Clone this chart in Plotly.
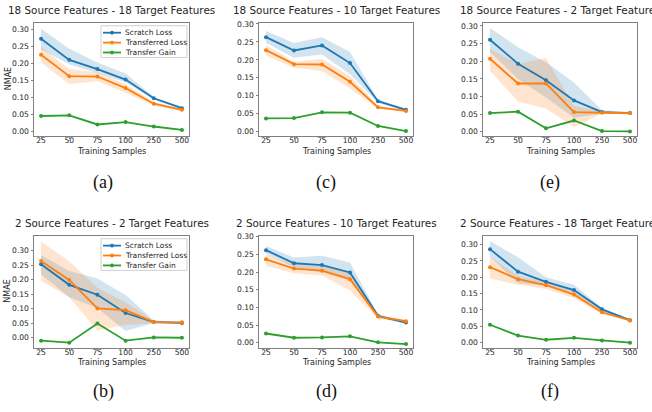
import plotly.graph_objects as go

W, H = 652, 412

samples = ["25", "50", "75", "100", "250", "500"]
ytick_vals = [0.00, 0.05, 0.10, 0.15, 0.20, 0.25, 0.30]
series_names = ["Scratch Loss", "Transferred Loss", "Transfer Gain"]
series_colors = ["#1f77b4", "#ff7f0e", "#2ca02c"]
band_colors = ["rgba(31,119,180,0.2)", "rgba(255,127,14,0.2)"]

# (a) 18 source - 18 target
a_scratch = [0.273, 0.211, 0.184, 0.153, 0.098, 0.069]
a_scratch_hi = [0.303, 0.244, 0.203, 0.171, 0.102, 0.072]
a_scratch_lo = [0.242, 0.198, 0.172, 0.145, 0.094, 0.066]
a_transfer = [0.226, 0.163, 0.162, 0.128, 0.082, 0.064]
a_transfer_hi = [0.249, 0.184, 0.174, 0.140, 0.087, 0.068]
a_transfer_lo = [0.203, 0.140, 0.148, 0.114, 0.077, 0.060]
a_gain = [0.046, 0.048, 0.021, 0.028, 0.015, 0.005]

# (c) 18 source - 10 target
c_scratch = [0.263, 0.226, 0.240, 0.191, 0.085, 0.061]
c_scratch_hi = [0.280, 0.247, 0.263, 0.222, 0.089, 0.064]
c_scratch_lo = [0.247, 0.206, 0.215, 0.160, 0.081, 0.058]
c_transfer = [0.227, 0.188, 0.187, 0.139, 0.068, 0.058]
c_transfer_hi = [0.241, 0.194, 0.203, 0.155, 0.072, 0.061]
c_transfer_lo = [0.212, 0.178, 0.169, 0.120, 0.065, 0.055]
c_gain = [0.037, 0.038, 0.054, 0.053, 0.016, 0.002]

# (e) 18 source - 2 target
e_scratch = [0.261, 0.193, 0.146, 0.089, 0.056, 0.053]
e_scratch_hi = [0.294, 0.240, 0.197, 0.140, 0.061, 0.056]
e_scratch_lo = [0.226, 0.150, 0.097, 0.040, 0.051, 0.050]
e_transfer = [0.207, 0.137, 0.137, 0.056, 0.054, 0.053]
e_transfer_hi = [0.235, 0.192, 0.209, 0.073, 0.058, 0.056]
e_transfer_lo = [0.173, 0.086, 0.066, 0.014, 0.051, 0.050]
e_gain = [0.053, 0.057, 0.010, 0.032, 0.002, 0.001]

# (b) 2 source - 2 target
b_scratch = [0.253, 0.182, 0.148, 0.085, 0.054, 0.051]
b_scratch_hi = [0.285, 0.230, 0.204, 0.147, 0.059, 0.055]
b_scratch_lo = [0.218, 0.139, 0.102, 0.023, 0.051, 0.048]
b_transfer = [0.264, 0.199, 0.101, 0.095, 0.054, 0.053]
b_transfer_hi = [0.331, 0.263, 0.172, 0.121, 0.059, 0.055]
b_transfer_lo = [0.196, 0.139, 0.025, 0.045, 0.049, 0.049]
b_gain = [-0.010, -0.017, 0.049, -0.010, 0.001, 0.000]

# (d) 2 source - 10 target
d_scratch = [0.262, 0.225, 0.220, 0.199, 0.076, 0.057]
d_scratch_hi = [0.274, 0.241, 0.246, 0.227, 0.080, 0.062]
d_scratch_lo = [0.252, 0.213, 0.199, 0.176, 0.071, 0.053]
d_transfer = [0.236, 0.210, 0.204, 0.180, 0.074, 0.061]
d_transfer_hi = [0.250, 0.221, 0.216, 0.201, 0.078, 0.064]
d_transfer_lo = [0.218, 0.197, 0.190, 0.148, 0.068, 0.058]
d_gain = [0.026, 0.014, 0.015, 0.018, 0.001, -0.004]

# (f) 2 source - 18 target
f_scratch = [0.286, 0.217, 0.186, 0.161, 0.102, 0.069]
f_scratch_hi = [0.311, 0.261, 0.200, 0.177, 0.106, 0.071]
f_scratch_lo = [0.263, 0.182, 0.174, 0.148, 0.098, 0.067]
f_transfer = [0.231, 0.194, 0.176, 0.147, 0.093, 0.068]
f_transfer_hi = [0.263, 0.204, 0.187, 0.157, 0.098, 0.070]
f_transfer_lo = [0.197, 0.177, 0.164, 0.136, 0.088, 0.066]
f_gain = [0.055, 0.022, 0.009, 0.015, 0.007, 0.000]

titles = {
    "a": "18 Source Features - 18 Target Features",
    "c": "18 Source Features - 10 Target Features",
    "e": "18 Source Features - 2 Target Features",
    "b": "2 Source Features - 2 Target Features",
    "d": "2 Source Features - 10 Target Features",
    "f": "2 Source Features - 18 Target Features",
}

panels = [
    # letter, col, row, data, y-range, show ylabel, show legend
    ("a", 0, 0, (a_scratch, a_scratch_lo, a_scratch_hi, a_transfer, a_transfer_lo, a_transfer_hi, a_gain), (-0.012, 0.320), True, True),
    ("c", 1, 0, (c_scratch, c_scratch_lo, c_scratch_hi, c_transfer, c_transfer_lo, c_transfer_hi, c_gain), (-0.011, 0.303), False, False),
    ("e", 2, 0, (e_scratch, e_scratch_lo, e_scratch_hi, e_transfer, e_transfer_lo, e_transfer_hi, e_gain), (-0.011, 0.309), False, False),
    ("b", 0, 1, (b_scratch, b_scratch_lo, b_scratch_hi, b_transfer, b_transfer_lo, b_transfer_hi, b_gain), (-0.034, 0.351), True, True),
    ("d", 1, 1, (d_scratch, d_scratch_lo, d_scratch_hi, d_transfer, d_transfer_lo, d_transfer_hi, d_gain), (-0.014, 0.303), False, False),
    ("f", 2, 1, (f_scratch, f_scratch_lo, f_scratch_hi, f_transfer, f_transfer_lo, f_transfer_hi, f_gain), (-0.015, 0.327), False, False),
]

# plot-area pixel boxes
col_px = [(34, 189), (259, 413), (483, 637)]
row_px = [(20, 134), (235, 348)]
label_cx = [103, 326, 550]
label_cy = [181, 392]


def px(x):
    return x / W


def py(y):
    return 1 - y / H


FONT = "DejaVu Sans"
TXT = "#262626"
AX = "#808080"

fig = go.Figure()
annotations = []
shapes = []
xs = list(range(len(samples)))

for i, (letter, c, r, data, yr, ylab, leg) in enumerate(panels):
    k = "" if i == 0 else str(i + 1)
    xa, ya = "x" + k, "y" + k
    scratch, s_lo, s_hi, transfer, t_lo, t_hi, gain = data
    # bands
    for hi, lo, bc in ((s_hi, s_lo, band_colors[0]), (t_hi, t_lo, band_colors[1])):
        fig.add_trace(go.Scatter(
            x=xs + xs[::-1], y=list(hi) + list(lo)[::-1], fill="toself",
            fillcolor=bc, line=dict(width=0), mode="lines", hoverinfo="skip",
            showlegend=False, xaxis=xa, yaxis=ya))
    for vals, name, col in zip((scratch, transfer, gain), series_names, series_colors):
        fig.add_trace(go.Scatter(
            x=xs, y=vals, mode="lines+markers", name=name,
            line=dict(color=col, width=1.8), marker=dict(color=col, size=4),
            showlegend=False, xaxis=xa, yaxis=ya))

    x0, x1 = col_px[c]
    y0, y1 = row_px[r]
    axcommon = dict(showline=True, mirror=True, linecolor=AX, linewidth=1,
                    ticks="outside", ticklen=2.5, tickcolor=AX, tickwidth=1,
                    showgrid=False, zeroline=False,
                    tickfont=dict(family=FONT, size=7.6, color=TXT))
    fig.layout["xaxis" + k] = dict(domain=[px(x0), px(x1)], anchor=ya,
                                   range=[-0.25, len(samples) - 0.75],
                                   tickvals=xs, ticktext=samples,
                                   ticklabelstandoff=-5, **axcommon)
    fig.layout["yaxis" + k] = dict(domain=[py(y1), py(y0)], anchor=xa,
                                   range=list(yr), tickvals=ytick_vals,
                                   tickformat=".2f", **axcommon)

    cx = (x0 + x1) / 2
    annotations.append(dict(text=titles[letter], x=px(cx), y=py(y0 - 13),
                            xref="paper", yref="paper", showarrow=False,
                            xanchor="center", yanchor="middle",
                            font=dict(family=FONT, size=10.4, color=TXT)))
    annotations.append(dict(text="Training Samples", x=px(cx), y=py(y1 + 15.5),
                            xref="paper", yref="paper", showarrow=False,
                            xanchor="center", yanchor="middle",
                            font=dict(family=FONT, size=8, color=TXT)))
    annotations.append(dict(text="(" + letter + ")", x=px(label_cx[c]), y=py(label_cy[r]),
                            xref="paper", yref="paper", showarrow=False,
                            xanchor="center", yanchor="middle",
                            font=dict(family="Liberation Serif", size=18, color="#111")))
    if ylab:
        annotations.append(dict(text="NMAE", x=px(8), y=py((y0 + y1) / 2),
                                xref="paper", yref="paper", showarrow=False,
                                textangle=-90, xanchor="center", yanchor="middle",
                                font=dict(family=FONT, size=8, color=TXT)))
    if leg:
        bx0, bx1 = x0 + 67, x1 - 2
        by0, by1 = y0 + 3, y0 + 35
        shapes.append(dict(type="rect", xref="paper", yref="paper",
                           x0=px(bx0), x1=px(bx1), y0=py(by1), y1=py(by0),
                           line=dict(color="#d0d0d0", width=1), fillcolor="rgba(255,255,255,0.8)"))
        for j, (name, col) in enumerate(zip(series_names, series_colors)):
            ry = by0 + 7 + 10 * j
            shapes.append(dict(type="line", xref="paper", yref="paper",
                               x0=px(bx0 + 2), x1=px(bx0 + 20), y0=py(ry), y1=py(ry),
                               line=dict(color=col, width=1.8)))
            shapes.append(dict(type="circle", xref="paper", yref="paper",
                               x0=px(bx0 + 9.5), x1=px(bx0 + 12.5), y0=py(ry + 1.5), y1=py(ry - 1.5),
                               line=dict(color=col, width=1), fillcolor=col))
            annotations.append(dict(text=name, x=px(bx0 + 22), y=py(ry),
                                    xref="paper", yref="paper", showarrow=False,
                                    xanchor="left", yanchor="middle",
                                    font=dict(family=FONT, size=7.5, color=TXT)))

fig.update_layout(width=W, height=H, margin=dict(l=0, r=0, t=0, b=0),
                  paper_bgcolor="white", plot_bgcolor="white",
                  showlegend=False, annotations=annotations, shapes=shapes)

fig.write_html("out.html", config={"displayModeBar": False},
               post_script="document.body.style.margin='0';")
